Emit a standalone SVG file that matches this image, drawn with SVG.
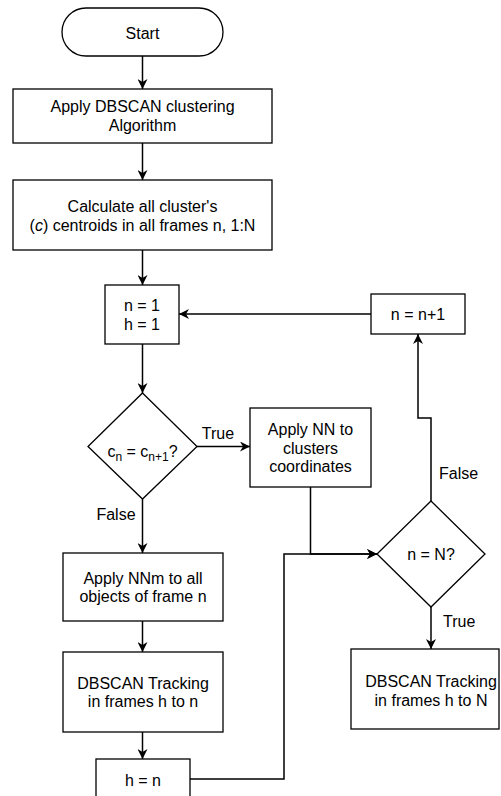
<svg xmlns="http://www.w3.org/2000/svg" width="501" height="796" viewBox="0 0 501 796">
<defs>
<marker id="arr" markerUnits="userSpaceOnUse" markerWidth="12" markerHeight="10" refX="10" refY="5" orient="auto">
<path d="M0,0 L10,5 L0,10 L3,5 Z" fill="#000"/>
</marker>
<style>
.n { fill: #fff; stroke: #000; stroke-width: 1.3; }
.e { fill: none; stroke: #000; stroke-width: 1.5; }
.a { marker-end: url(#arr); }
text { font-family: "Liberation Sans", Arial, sans-serif; font-size: 16px; fill: #000; }
.c { text-anchor: middle; }
</style>
</defs>
<rect width="501" height="796" fill="#fff"/>
<g id="connectors">
<path class="e a" d="M142.5,56 L142.5,89"/>
<path class="e a" d="M142.5,143 L142.5,180"/>
<path class="e a" d="M142.5,250 L142.5,285"/>
<path class="e a" d="M142.5,344 L142.5,393"/>
<path class="e a" d="M197,446.5 L250,446.5"/>
<path class="e a" d="M142.5,499 L142.5,553"/>
<path class="e a" d="M142.5,621 L142.5,652"/>
<path class="e a" d="M142.5,732 L142.5,759"/>
<path class="e a" d="M190,779 L284,779 L284,554 L377,554"/>
<path class="e a" d="M310.5,487 L310.5,554 L377,554"/>
<path class="e a" d="M431,501 L431,418 L418,418 L418,334"/>
<path class="e a" d="M371,314 L179,314"/>
<path class="e a" d="M431,607 L431,649"/>
<text x="218" y="439" class="c">True</text>
<text x="116" y="520" class="c">False</text>
<text x="439" y="479">False</text>
<text x="443" y="627">True</text>
</g>
<g id="start">
<rect class="n" x="62" y="8" width="161" height="48" rx="24" ry="24"/>
<text x="142.5" y="39" class="c">Start</text>
</g>
<g id="dbscan-cluster">
<rect class="n" x="13" y="89" width="259" height="54"/>
<text x="142.5" y="112" class="c">Apply DBSCAN clustering</text>
<text x="142.5" y="131" class="c">Algorithm</text>
</g>
<g id="centroids">
<rect class="n" x="13" y="180" width="259" height="70"/>
<text x="142.5" y="212" class="c">Calculate all cluster's</text>
<text x="142.5" y="231" class="c">(<tspan font-style="italic">c</tspan>) centroids in all frames n, 1:N</text>
</g>
<g id="init">
<rect class="n" x="105" y="285" width="74" height="59"/>
<text x="142" y="311" class="c">n = 1</text>
<text x="142" y="330" class="c">h = 1</text>
</g>
<g id="decision1">
<polygon class="n" points="142.5,393 197,446.5 142.5,499 88,446.5"/>
<text x="142.5" y="457" class="c">c<tspan font-size="12" dy="4">n</tspan><tspan dy="-4"> = c</tspan><tspan font-size="12" dy="4">n+1</tspan><tspan dy="-4">?</tspan></text>
</g>
<g id="apply-nn">
<rect class="n" x="250" y="408" width="121" height="79"/>
<text x="310.5" y="435" class="c">Apply NN to</text>
<text x="310.5" y="453.5" class="c">clusters</text>
<text x="310.5" y="472" class="c">coordinates</text>
</g>
<g id="increment">
<rect class="n" x="371" y="294" width="94" height="40"/>
<text x="418" y="320" class="c">n = n+1</text>
</g>
<g id="decision2">
<polygon class="n" points="431,501 485,554 431,607 377,554"/>
<text x="431" y="560" class="c">n = N?</text>
</g>
<g id="apply-nnm">
<rect class="n" x="63" y="553" width="160" height="68"/>
<text x="143" y="584" class="c">Apply NNm to all</text>
<text x="143" y="602" class="c">objects of frame n</text>
</g>
<g id="tracking-left">
<rect class="n" x="63" y="652" width="160" height="80"/>
<text x="143" y="689" class="c">DBSCAN Tracking</text>
<text x="143" y="707" class="c">in frames h to n</text>
</g>
<g id="h-assign">
<rect class="n" x="96" y="759" width="94" height="60"/>
<text x="143" y="786" class="c">h = n</text>
</g>
<g id="tracking-right">
<rect class="n" x="351" y="649" width="148" height="80"/>
<text x="431" y="687" class="c">DBSCAN Tracking</text>
<text x="431" y="706" class="c">in frames h to N</text>
</g>
</svg>
